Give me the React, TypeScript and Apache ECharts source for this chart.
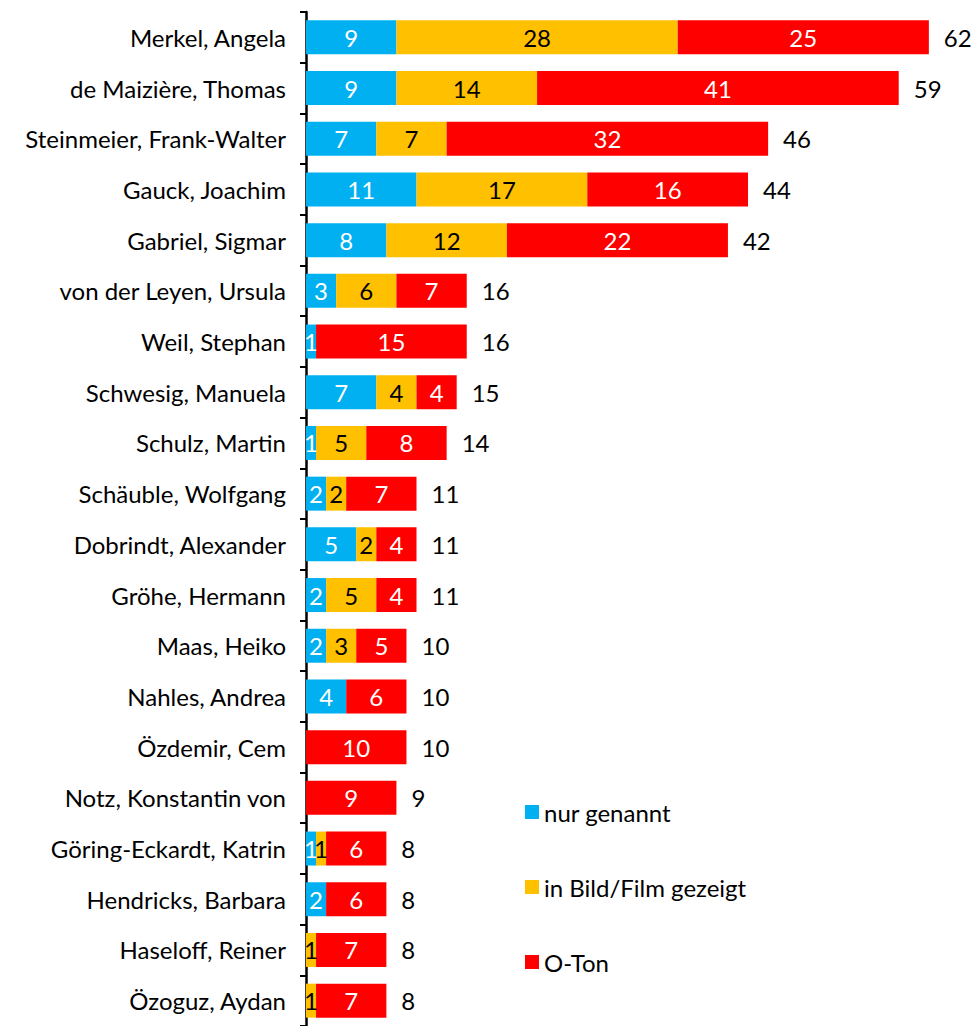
import React, { useEffect, useRef } from "react";
import * as echarts from "echarts";

const categories = [
  "Merkel, Angela",
  "de Maizière, Thomas",
  "Steinmeier, Frank-Walter",
  "Gauck, Joachim",
  "Gabriel, Sigmar",
  "von der Leyen, Ursula",
  "Weil, Stephan",
  "Schwesig, Manuela",
  "Schulz, Martin",
  "Schäuble, Wolfgang",
  "Dobrindt, Alexander",
  "Gröhe, Hermann",
  "Maas, Heiko",
  "Nahles, Andrea",
  "Özdemir, Cem",
  "Notz, Konstantin von",
  "Göring-Eckardt, Katrin",
  "Hendricks, Barbara",
  "Haseloff, Reiner",
  "Özoguz, Aydan",
];

const nurGenannt = [9, 9, 7, 11, 8, 3, 1, 7, 1, 2, 5, 2, 2, 4, 0, 0, 1, 2, 0, 0];
const inBildGezeigt = [28, 14, 7, 17, 12, 6, 0, 4, 5, 2, 2, 5, 3, 0, 0, 0, 1, 0, 1, 1];
const oTon = [25, 36, 32, 16, 22, 7, 15, 4, 8, 7, 4, 4, 5, 6, 10, 9, 6, 6, 7, 7];
const oTonLabels = [25, 41, 32, 16, 22, 7, 15, 4, 8, 7, 4, 4, 5, 6, 10, 9, 6, 6, 7, 7];
const totals = [62, 59, 46, 44, 42, 16, 16, 15, 14, 11, 11, 11, 10, 10, 10, 9, 8, 8, 8, 8];

const seriesNames = ["nur genannt", "in Bild/Film gezeigt", "O-Ton"];
const colors = ["#00B0F0", "#FFC000", "#FF0000"];

const FONT = "Lato";
const FS = 24;

export default function App() {
  const ref = useRef<HTMLDivElement>(null);
  useEffect(() => {
    if (!ref.current) return;
    const chart = echarts.init(ref.current, null, { renderer: "svg" });
    const segLabel = (color: string, labels?: number[]) => ({
      show: true,
      position: "inside",
      color,
      fontSize: FS,
      fontFamily: FONT,
      formatter: (p: any) => {
        const v = labels ? labels[p.dataIndex] : p.value;
        return p.value === 0 ? "" : String(v);
      },
    });
    chart.setOption({
      animation: false,
      textStyle: { fontFamily: FONT },
      grid: { left: 306, right: 14, top: 12, bottom: -2, containLabel: false },
      legend: {
        data: seriesNames,
        orient: "vertical",
        left: 520,
        top: 795,
        icon: "rect",
        itemWidth: 14,
        itemHeight: 14,
        itemGap: 51,
        textStyle: { fontSize: FS, color: "#000", fontFamily: FONT, lineHeight: 24 },
      },
      xAxis: {
        type: "value",
        min: 0,
        max: 65,
        show: false,
        splitLine: { show: false },
      },
      yAxis: {
        type: "category",
        data: categories,
        inverse: true,
        axisLine: { show: true, lineStyle: { color: "#000", width: 2.5 } },
        axisTick: { show: true, length: 6, lineStyle: { color: "#000", width: 2 } },
        axisLabel: { color: "#000", fontSize: FS, fontFamily: FONT, margin: 20 },
      },
      series: [
        {
          name: seriesNames[0],
          type: "bar",
          stack: "total",
          data: nurGenannt,
          barCategoryGap: "33%",
          itemStyle: { color: colors[0] },
          label: segLabel("#fff"),
        },
        {
          name: seriesNames[1],
          type: "bar",
          stack: "total",
          data: inBildGezeigt,
          itemStyle: { color: colors[1] },
          label: segLabel("#000"),
        },
        {
          name: seriesNames[2],
          type: "bar",
          stack: "total",
          data: oTon,
          itemStyle: { color: colors[2] },
          label: segLabel("#fff", oTonLabels),
        },
        {
          name: "Summe",
          type: "bar",
          data: totals,
          barGap: "-100%",
          silent: true,
          itemStyle: { color: "rgba(0,0,0,0)" },
          label: {
            show: true,
            position: "right",
            distance: 15,
            color: "#000",
            fontSize: FS,
            fontFamily: FONT,
            formatter: (p: any) => String(totals[p.dataIndex]),
          },
        },
      ],
    });
    return () => chart.dispose();
  }, []);
  return (
    <div
      ref={ref}
      style={{ position: "fixed", left: 0, top: 0, width: 973, height: 1026, background: "#fff" }}
    />
  );
}
